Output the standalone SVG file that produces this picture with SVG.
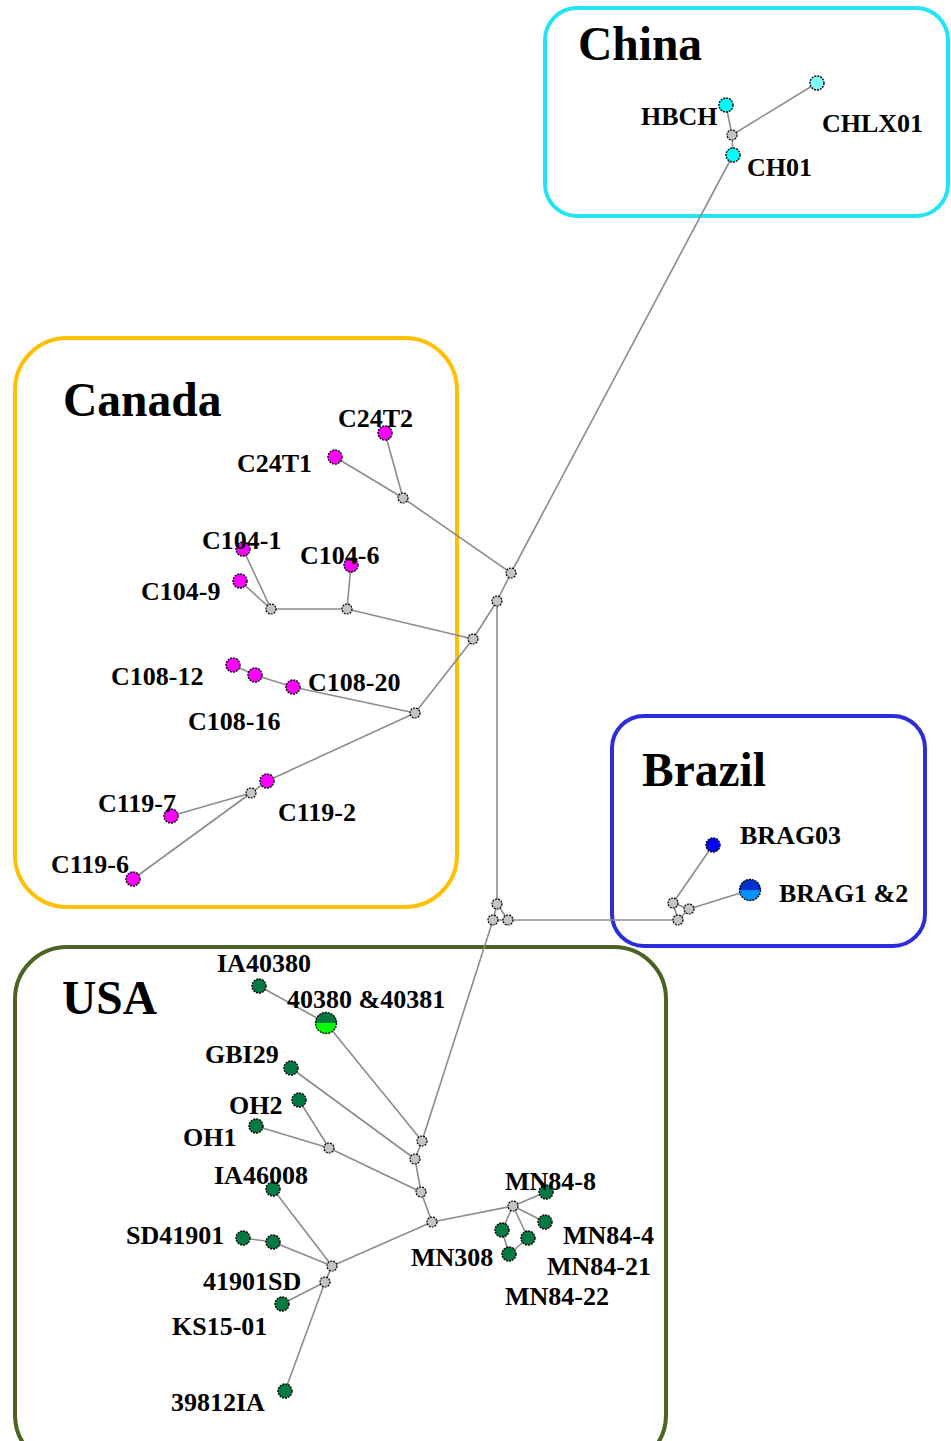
<svg xmlns="http://www.w3.org/2000/svg" width="951" height="1441" viewBox="0 0 951 1441">
<style>
.box{fill:none;stroke-width:4}
.e{stroke:#8c8c8c;stroke-width:1.6;fill:none}
.n{stroke:#000;stroke-width:1.4;stroke-dasharray:2 1}
.j{fill:#c4c4c4;stroke:#000;stroke-width:1.2;stroke-dasharray:2 1}
.pk{fill:#ff00ff}
.cy{fill:#00ffff}
.cl{fill:#7fffff}
.gr{fill:#007a40}
.bl{fill:#0000ff}
text{font-family:"Liberation Serif","Times New Roman",serif;font-weight:bold;fill:#000}
.lb{font-size:26px}
.tt{font-size:47.5px}
</style>
<defs>
<clipPath id="topHalf1"><rect x="730" y="878" width="40" height="12"/></clipPath>
<clipPath id="topHalf2"><rect x="305" y="1010" width="40" height="13"/></clipPath>
</defs>
<rect width="951" height="1441" fill="#fff"/>

<g id="regions">
<rect id="box-china" class="box" x="545" y="8" width="403" height="208" rx="32" stroke="#22e4f4"/>
<rect id="box-canada" class="box" x="15" y="338" width="442" height="569" rx="52" stroke="#ffc000"/>
<rect id="box-brazil" class="box" x="612" y="716" width="313" height="230" rx="32" stroke="#2c2cdc"/>
<rect id="box-usa" class="box" x="15" y="947" width="651" height="520" rx="52" stroke="#4b6424"/>
<text class="tt" x="578" y="60">China</text>
<text class="tt" x="63" y="416">Canada</text>
<text class="tt" x="642" y="786">Brazil</text>
<text class="tt" x="62" y="1014">USA</text>
</g>

<g id="connectors">
<line class="e" x1="726" y1="105" x2="732" y2="135"/>
<line class="e" x1="732" y1="135" x2="817" y2="83"/>
<line class="e" x1="732" y1="135" x2="733" y2="155"/>
<line class="e" x1="733" y1="155" x2="511" y2="573"/>
<line class="e" x1="511" y1="573" x2="403" y2="498"/>
<line class="e" x1="403" y1="498" x2="385" y2="433"/>
<line class="e" x1="403" y1="498" x2="335" y2="457"/>
<line class="e" x1="511" y1="573" x2="497" y2="601"/>
<line class="e" x1="497" y1="601" x2="473" y2="639"/>
<line class="e" x1="473" y1="639" x2="347" y2="609"/>
<line class="e" x1="347" y1="609" x2="271" y2="609"/>
<line class="e" x1="347" y1="609" x2="351" y2="565"/>
<line class="e" x1="271" y1="609" x2="243" y2="549"/>
<line class="e" x1="271" y1="609" x2="240" y2="581"/>
<line class="e" x1="473" y1="639" x2="415" y2="713"/>
<line class="e" x1="415" y1="713" x2="293" y2="687"/>
<line class="e" x1="293" y1="687" x2="255" y2="675"/>
<line class="e" x1="255" y1="675" x2="233" y2="665"/>
<line class="e" x1="415" y1="713" x2="267" y2="781"/>
<line class="e" x1="267" y1="781" x2="251" y2="793"/>
<line class="e" x1="251" y1="793" x2="171" y2="816"/>
<line class="e" x1="251" y1="793" x2="133" y2="879"/>
<line class="e" x1="497" y1="601" x2="497" y2="904"/>
<line class="e" x1="497" y1="904" x2="493" y2="920"/>
<line class="e" x1="497" y1="904" x2="508" y2="920"/>
<line class="e" x1="493" y1="920" x2="508" y2="920"/>
<line class="e" x1="508" y1="920" x2="678" y2="920"/>
<line class="e" x1="678" y1="920" x2="673" y2="903"/>
<line class="e" x1="678" y1="920" x2="689" y2="909"/>
<line class="e" x1="673" y1="903" x2="689" y2="909"/>
<line class="e" x1="673" y1="903" x2="713" y2="845"/>
<line class="e" x1="689" y1="909" x2="750" y2="890"/>
<line class="e" x1="493" y1="920" x2="422" y2="1141"/>
<line class="e" x1="422" y1="1141" x2="326" y2="1023"/>
<line class="e" x1="326" y1="1023" x2="259" y2="986"/>
<line class="e" x1="422" y1="1141" x2="415" y2="1159"/>
<line class="e" x1="415" y1="1159" x2="291" y2="1068"/>
<line class="e" x1="415" y1="1159" x2="421" y2="1192"/>
<line class="e" x1="421" y1="1192" x2="329" y2="1148"/>
<line class="e" x1="329" y1="1148" x2="299" y2="1100"/>
<line class="e" x1="329" y1="1148" x2="256" y2="1126"/>
<line class="e" x1="421" y1="1192" x2="432" y2="1222"/>
<line class="e" x1="432" y1="1222" x2="513" y2="1206"/>
<line class="e" x1="513" y1="1206" x2="546" y2="1192"/>
<line class="e" x1="513" y1="1206" x2="545" y2="1222"/>
<line class="e" x1="513" y1="1206" x2="502" y2="1230"/>
<line class="e" x1="513" y1="1206" x2="528" y2="1238"/>
<line class="e" x1="502" y1="1230" x2="509" y2="1254"/>
<line class="e" x1="528" y1="1238" x2="509" y2="1254"/>
<line class="e" x1="432" y1="1222" x2="332" y2="1266"/>
<line class="e" x1="332" y1="1266" x2="273" y2="1189"/>
<line class="e" x1="332" y1="1266" x2="273" y2="1242"/>
<line class="e" x1="273" y1="1242" x2="243" y2="1238"/>
<line class="e" x1="332" y1="1266" x2="325" y2="1282"/>
<line class="e" x1="325" y1="1282" x2="282" y2="1304"/>
<line class="e" x1="325" y1="1282" x2="285" y2="1391"/>
</g>

<g id="junctions">
<circle class="j" cx="732" cy="135" r="5"/>
<circle class="j" cx="511" cy="573" r="5"/>
<circle class="j" cx="403" cy="498" r="5"/>
<circle class="j" cx="497" cy="601" r="5"/>
<circle class="j" cx="473" cy="639" r="5"/>
<circle class="j" cx="347" cy="609" r="5"/>
<circle class="j" cx="271" cy="609" r="5"/>
<circle class="j" cx="415" cy="713" r="5"/>
<circle class="j" cx="251" cy="793" r="5"/>
<circle class="j" cx="497" cy="904" r="5"/>
<circle class="j" cx="493" cy="920" r="5"/>
<circle class="j" cx="508" cy="920" r="5"/>
<circle class="j" cx="673" cy="903" r="5"/>
<circle class="j" cx="689" cy="909" r="5"/>
<circle class="j" cx="678" cy="920" r="5"/>
<circle class="j" cx="422" cy="1141" r="5"/>
<circle class="j" cx="415" cy="1159" r="5"/>
<circle class="j" cx="421" cy="1192" r="5"/>
<circle class="j" cx="329" cy="1148" r="5"/>
<circle class="j" cx="432" cy="1222" r="5"/>
<circle class="j" cx="513" cy="1206" r="5"/>
<circle class="j" cx="332" cy="1266" r="5"/>
<circle class="j" cx="325" cy="1282" r="5"/>
</g>

<g id="node-CHLX01"><circle class="n cl" cx="817" cy="83" r="7"/><text class="lb" x="822" y="132">CHLX01</text></g>
<g id="node-HBCH"><circle class="n cy" cx="726" cy="105" r="7"/><text class="lb" x="641" y="125">HBCH</text></g>
<g id="node-CH01"><circle class="n cy" cx="733" cy="155" r="7"/><text class="lb" x="747" y="176">CH01</text></g>

<g id="node-C24T2"><circle class="n pk" cx="385" cy="433" r="7"/><text class="lb" x="338" y="427">C24T2</text></g>
<g id="node-C24T1"><circle class="n pk" cx="335" cy="457" r="7"/><text class="lb" x="237" y="472">C24T1</text></g>
<g id="node-C104-1"><circle class="n pk" cx="243" cy="549" r="7"/><text class="lb" x="202" y="549">C104-1</text></g>
<g id="node-C104-6"><circle class="n pk" cx="351" cy="565" r="7"/><text class="lb" x="300" y="564">C104-6</text></g>
<g id="node-C104-9"><circle class="n pk" cx="240" cy="581" r="7"/><text class="lb" x="141" y="600">C104-9</text></g>
<g id="node-C108-12"><circle class="n pk" cx="233" cy="665" r="7"/><text class="lb" x="111" y="685">C108-12</text></g>
<g id="node-C108-16"><circle class="n pk" cx="255" cy="675" r="7"/><text class="lb" x="188" y="730">C108-16</text></g>
<g id="node-C108-20"><circle class="n pk" cx="293" cy="687" r="7"/><text class="lb" x="308" y="691">C108-20</text></g>
<g id="node-C119-2"><circle class="n pk" cx="267" cy="781" r="7"/><text class="lb" x="278" y="821">C119-2</text></g>
<g id="node-C119-7"><circle class="n pk" cx="171" cy="816" r="7"/><text class="lb" x="98" y="812">C119-7</text></g>
<g id="node-C119-6"><circle class="n pk" cx="133" cy="879" r="7"/><text class="lb" x="51" y="873">C119-6</text></g>

<g id="node-BRAG03"><circle class="n bl" cx="713" cy="845" r="7"/><text class="lb" x="740" y="844">BRAG03</text></g>
<g id="node-BRAG12"><circle cx="750" cy="890" r="10.5" fill="#0090ff"/><circle cx="750" cy="890" r="10.5" fill="#0030d0" clip-path="url(#topHalf1)"/><circle class="n" cx="750" cy="890" r="10.5" fill="none"/><text class="lb" x="779" y="902">BRAG1 &amp;2</text></g>

<g id="node-IA40380"><circle class="n gr" cx="259" cy="986" r="7"/><text class="lb" x="217" y="972">IA40380</text></g>
<g id="node-40380-40381"><circle cx="326" cy="1023" r="10.5" fill="#00ff00"/><circle cx="326" cy="1023" r="10.5" fill="#007a40" clip-path="url(#topHalf2)"/><circle class="n" cx="326" cy="1023" r="10.5" fill="none"/><text class="lb" x="287" y="1008">40380 &amp;40381</text></g>
<g id="node-GBI29"><circle class="n gr" cx="291" cy="1068" r="7"/><text class="lb" x="205" y="1063">GBI29</text></g>
<g id="node-OH2"><circle class="n gr" cx="299" cy="1100" r="7"/><text class="lb" x="229" y="1114">OH2</text></g>
<g id="node-OH1"><circle class="n gr" cx="256" cy="1126" r="7"/><text class="lb" x="183" y="1146">OH1</text></g>
<g id="node-IA46008"><circle class="n gr" cx="273" cy="1189" r="7"/><text class="lb" x="214" y="1184">IA46008</text></g>
<g id="node-SD41901"><circle class="n gr" cx="243" cy="1238" r="7"/><text class="lb" x="126" y="1244">SD41901</text></g>
<g id="node-41901SD"><circle class="n gr" cx="273" cy="1242" r="7"/><text class="lb" x="203" y="1290">41901SD</text></g>
<g id="node-KS15-01"><circle class="n gr" cx="282" cy="1304" r="7"/><text class="lb" x="172" y="1335">KS15-01</text></g>
<g id="node-39812IA"><circle class="n gr" cx="285" cy="1391" r="7"/><text class="lb" x="171" y="1411">39812IA</text></g>
<g id="node-MN84-8"><circle class="n gr" cx="546" cy="1192" r="7"/><text class="lb" x="505" y="1190">MN84-8</text></g>
<g id="node-MN84-4"><circle class="n gr" cx="545" cy="1222" r="7"/><text class="lb" x="563" y="1244">MN84-4</text></g>
<g id="node-MN308"><circle class="n gr" cx="502" cy="1230" r="7"/><text class="lb" x="411" y="1266">MN308</text></g>
<g id="node-MN84-21"><circle class="n gr" cx="528" cy="1238" r="7"/><text class="lb" x="547" y="1275">MN84-21</text></g>
<g id="node-MN84-22"><circle class="n gr" cx="509" cy="1254" r="7"/><text class="lb" x="505" y="1305">MN84-22</text></g>
</svg>
